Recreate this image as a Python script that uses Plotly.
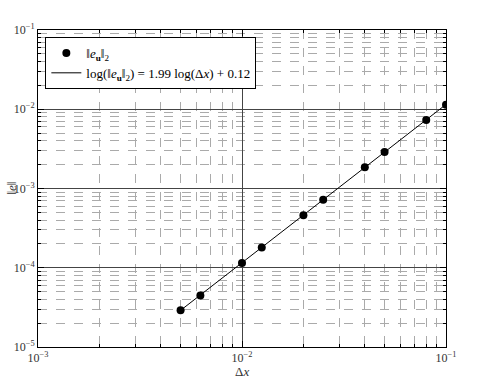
import plotly.graph_objects as go

# data
dx = [0.005, 0.00625, 0.01, 0.0125, 0.02, 0.025, 0.04, 0.05, 0.08, 0.1]
err = [2.9e-5, 4.45e-5, 1.15e-4, 1.8e-4, 4.6e-4, 7.2e-4, 1.85e-3, 2.88e-3, 7.3e-3, 1.14e-2]
fit_dx = [0.005, 0.1]
fit_err = [2.9e-5, 1.15e-2]

x_ticks = [1e-3, 1e-2, 1e-1]
x_ticktext = ["10<sup>−3</sup>", "10<sup>−2</sup>", "10<sup>−1</sup>"]
y_ticks = [1e-5, 1e-4, 1e-3, 1e-2, 1e-1]
y_ticktext = ["10<sup>−5</sup>", "10<sup>−4</sup>", "10<sup>−3</sup>", "10<sup>−2</sup>", "10<sup>−1</sup>"]

x_minor = [k * 10.0 ** e for e in (-3, -2) for k in range(2, 10)]
y_minor = [k * 10.0 ** e for e in (-5, -4, -3, -2) for k in range(2, 10)]

FONT = "Liberation Serif"

fig = go.Figure()
fig.add_trace(go.Scatter(
    x=dx, y=err, mode="markers",
    marker=dict(color="black", size=8),
    name="‖<i>e</i><sub><b>u</b></sub>‖<sub>2</sub>",
))
fig.add_trace(go.Scatter(
    x=fit_dx, y=fit_err, mode="lines",
    line=dict(color="black", width=1),
    name="log(‖<i>e</i><sub><b>u</b></sub>‖<sub>2</sub>) = 1.99 log(Δ<i>x</i>) + 0.12",
))

axis_common = dict(
    type="log",
    showline=True, linecolor="black", linewidth=1, mirror="allticks",
    ticks="inside", ticklen=6, tickcolor="black",
    showgrid=True, gridcolor="#444444", gridwidth=1,
    zeroline=False,
    tickfont=dict(family=FONT, size=12, color="#333333"),
)

fig.update_xaxes(
    **axis_common,
    range=[-3, -1],
    tickvals=x_ticks, ticktext=x_ticktext,
    minor=dict(tickvals=x_minor, ticks="inside", ticklen=3, tickcolor="black",
               showgrid=True, gridcolor="#aaaaaa", griddash="dash", gridwidth=1),
)
fig.update_yaxes(
    **axis_common,
    range=[-5, -1],
    tickvals=y_ticks, ticktext=y_ticktext,
    minor=dict(tickvals=y_minor, ticks="inside", ticklen=3, tickcolor="black",
               showgrid=True, gridcolor="#aaaaaa", griddash="dash", gridwidth=1),
)

fig.add_annotation(text="Δ<i>x</i>", xref="paper", yref="paper", x=0.5, y=-0.078,
                   showarrow=False, font=dict(family=FONT, size=13, color="#333333"),
                   yanchor="middle")
fig.add_annotation(text="‖<i>e</i>‖", xref="paper", yref="paper", x=-0.066, y=0.5,
                   textangle=-90, showarrow=False,
                   font=dict(family=FONT, size=13, color="#333333"), xanchor="center")

fig.update_layout(
    width=501, height=379,
    margin=dict(l=38, r=55, t=30, b=32),
    paper_bgcolor="white", plot_bgcolor="white",
    showlegend=True,
    legend=dict(x=0.018, y=0.978, xanchor="left", yanchor="top",
                bgcolor="white", bordercolor="black", borderwidth=1,
                font=dict(family=FONT, size=13, color="black"),
                tracegroupgap=0, itemwidth=30),
)

fig.write_html("out.html")
